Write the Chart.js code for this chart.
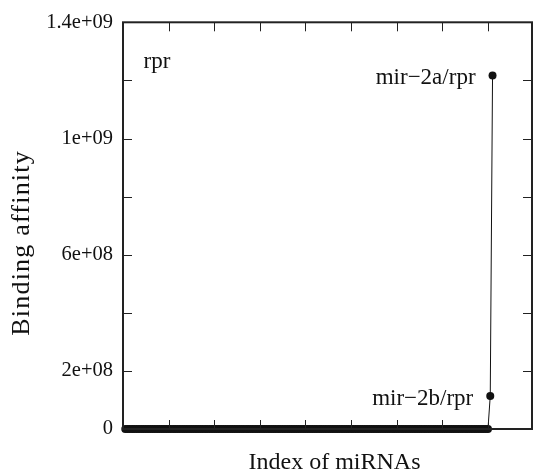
<!DOCTYPE html>
<html>
<head>
<meta charset="utf-8">
<script src="https://cdn.jsdelivr.net/npm/chart.js@4/dist/chart.umd.min.js"></script>
<style>
html,body{margin:0;padding:0;background:#fff;}
#wrap{width:533px;height:471px;position:relative;}
</style>
</head>
<body>
<div id="wrap"><canvas id="c" width="533" height="471"></canvas></div>
<script>
// Binding affinity per miRNA (sorted ascending), index 1..N
const affinity = [
0,0,0,0,0,0,0,0,0,0, 0,0,0,0,0,0,0,0,0,0,
0,0,0,0,0,0,0,0,0,0, 0,0,0,0,0,0,0,0,0,0,
0,0,0,0,0,0,0,0,0,0, 0,0,0,0,0,0,0,0,0,0,
0,0,0,0,0,0,0,0,0,0, 0,0,0,0,0,0,0,0,0,0,
0,0,0,0,0,0,0,0,0,0, 0,0,0,0,0,0,0,0,0,0,
0,0,0,0,0,0,0,0,0,0, 0,0,0,0,0,0,0,0,0,0,
0,0,0,0,0,0,0,0,0,0, 0,0,0,0,0,0,0,0,0,0,
0,0,0,0,0,0,0,0,0,0, 0,0,0,0,0,0,0,0,0,0,
1.14e8, 1.217e9
];
const xTickValues = [20, 40, 60, 80, 100, 120, 140, 160];
const yTickValues = [0, 2e8, 4e8, 6e8, 8e8, 1e9, 1.2e9, 1.4e9];
const yTickLabels = ['0', '2e+08', '', '6e+08', '', '1e+09', '', '1.4e+09'];
const panelLabel = 'rpr';
const pointLabels = ['mir\u22122b/rpr', 'mir\u22122a/rpr'];
const xTitle = 'Index of miRNAs';
const yTitle = 'Binding affinity';

const points = affinity.map((v, i) => ({x: i + 1, y: v}));
const SERIF = '"Liberation Serif", "Times New Roman", serif';

const framePlugin = {
  id: 'frame',
  afterDraw(chart) {
    const ctx = chart.ctx, a = chart.chartArea;
    const xs = chart.scales.x, ys = chart.scales.y;
    ctx.save();
    ctx.strokeStyle = '#222';
    ctx.lineWidth = 2;
    ctx.strokeRect(a.left, a.top, a.right - a.left, a.bottom - a.top);
    ctx.lineWidth = 1;
    const tl = 9;
    ctx.beginPath();
    xTickValues.forEach(v => {
      const px = Math.round(xs.getPixelForValue(v)) + 0.5;
      ctx.moveTo(px, a.bottom); ctx.lineTo(px, a.bottom - tl);
      ctx.moveTo(px, a.top); ctx.lineTo(px, a.top + tl);
    });
    yTickValues.forEach(v => {
      const py = Math.round(ys.getPixelForValue(v)) + 0.5;
      ctx.moveTo(a.left, py); ctx.lineTo(a.left + tl, py);
      ctx.moveTo(a.right, py); ctx.lineTo(a.right - tl, py);
    });
    ctx.stroke();
    // text annotations
    ctx.fillStyle = '#111';
    ctx.font = '23px ' + SERIF;
    ctx.textBaseline = 'alphabetic';
    ctx.textAlign = 'left';
    ctx.fillText(panelLabel, xs.getPixelForValue(9), ys.getPixelForValue(1.263e9) + 6);
    ctx.textAlign = 'right';
    const n = affinity.length;
    [n - 2, n - 1].forEach((idx, k) => {
      const px = xs.getPixelForValue(idx + 1);
      const py = ys.getPixelForValue(affinity[idx]);
      ctx.fillText(pointLabels[k], px - 17, py + 9);
    });
    // axis titles
    ctx.font = '24px ' + SERIF;
    ctx.textAlign = 'center';
    ctx.fillText(xTitle, (a.left + a.right) / 2 + 7, chart.height - 2);
    ctx.save();
    ctx.translate(29, 243.5);
    ctx.rotate(-Math.PI / 2);
    ctx.font = '26px ' + SERIF;
    ctx.letterSpacing = '1.2px';
    ctx.fillText(yTitle, 0.6, 0);
    ctx.restore();
    ctx.restore();
  }
};

new Chart(document.getElementById('c'), {
  type: 'line',
  data: {
    datasets: [{
      data: points,
      borderColor: '#111',
      borderWidth: 1,
      pointRadius: 4,
      pointHoverRadius: 4,
      pointBackgroundColor: '#111',
      pointBorderWidth: 0,
      tension: 0,
      clip: false
    }]
  },
  options: {
    responsive: false,
    animation: false,
    events: [],
    layout: {autoPadding: false, padding: {top: 19, right: 1, left: 0, bottom: 0}},
    plugins: {legend: {display: false}, tooltip: {enabled: false}},
    scales: {
      x: {
        type: 'linear',
        min: 0,
        max: 179.3,
        grid: {display: false, drawTicks: false},
        border: {display: false},
        ticks: {display: false, stepSize: 20},
        afterFit(s) { s.height = 42; }
      },
      y: {
        type: 'linear',
        min: 0,
        max: 1.4e9,
        grid: {display: false, drawTicks: false},
        border: {display: false},
        ticks: {
          stepSize: 2e8,
          padding: 10,
          color: '#111',
          autoSkip: false,
          font: {family: SERIF, size: 20.5},
          callback: (v) => {
            const i = yTickValues.findIndex(t => Math.abs(t - v) < 1);
            return i >= 0 ? yTickLabels[i] : '';
          }
        },
        afterFit(s) { s.width = 123; }
      }
    }
  },
  plugins: [framePlugin]
});
</script>
</body>
</html>
